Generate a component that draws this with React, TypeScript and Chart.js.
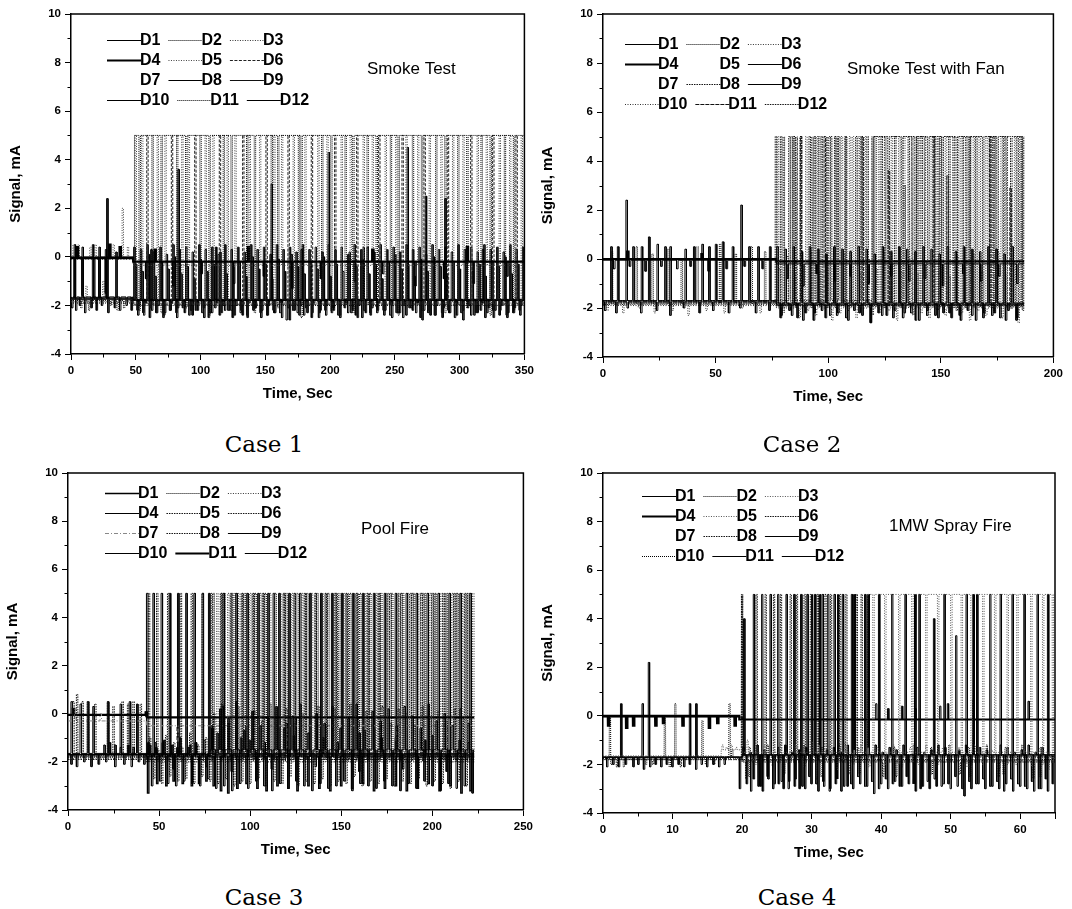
import React, { useEffect, useRef } from "react";
import { Chart, registerables } from "chart.js";
Chart.register(...registerables);

type P = [number, number];
type Trace = [number, number, number[]] | null; // [start time, sample step, sampled pulse values]

const seriesNames = ["D1", "D2", "D3", "D4", "D5", "D6", "D7", "D8", "D9", "D10", "D11", "D12"];
const yTickLabels = [-4, -2, 0, 2, 4, 6, 8, 10];

// ---------------- Case 1 : Smoke Test ----------------
const case1Title = "Smoke Test";
const case1XTicks = [0, 50, 100, 150, 200, 250, 300, 350];
const case1XMax = 350;
const case1End = 350;
const case1Levels: P[][] = [
  [[0, 0], [48, -0.2]],
  [[0, -1.8], [49, 5]],
  [[0, -1.85], [48, -1.9]],
  [[0, -0.05], [48, -0.2]],
  [[0, -0.1], [48, -0.35]],
  [[0, -1.75], [48, -1.95]],
  [[0, -1.7]],
  [[0, -1.75], [48, -1.8]],
  [[0, -1.7], [48, -1.8]],
  [[0, -1.65], [48, -1.75]],
  [[0, -1.9], [48, -2.0]],
  [[0, -1.7], [48, -1.75]],
];
const case1Spikes: P[][] = [
  [[3, -1.7], [9, -1.6], [18, -1.7], [22, -1.7], [27, -1.5], [58, -0.9], [79, -1.2], [101, -0.7], [126, -1.1], [149, -0.8], [171, -1.3], [193, -0.9], [219, -1.0], [241, -0.7], [266, -1.2], [288, -0.9], [311, -1.1], [337, -0.8]],
  [[8, -2.1], [14, -2.2], [31, -2.0], [36, -2.2], [41, -2.1], [53, -2.2], [70, -2.3], [89, -2.1], [107, -2.4], [124, -2.2], [142, -2.3], [160, -2.1], [178, -2.5], [201, -2.2], [218, -2.3], [236, -2.1], [253, -2.4], [271, -2.2], [289, -2.3], [306, -2.1], [324, -2.4], [342, -2.2]],
  [[12, -1.2], [25, -1.0], [50, 5], [67, 5], [86, 5], [104, 5], [121, 5], [138, 5], [157, 5], [172, 5], [191, 5], [209, 5], [226, 5], [243, 5], [259, 5], [277, 5], [295, 5], [314, 5], [331, 5], [348, 5]],
  [[5, 0.4], [30, 0.5], [38, 0.4], [65, 0.3], [137, 0.4], [233, 0.3], [306, 0.4]],
  [[2, 0.5], [6, 0.5], [15, 0.4], [19, 0.5], [33, 0.5], [40, 2.0], [44, 0.4], [55, 5], [73, 5], [91, 5], [110, 5], [127, 5], [146, 5], [163, 5], [181, 5], [198, 5], [216, 5], [233, 5], [251, 5], [268, 5], [286, 5], [303, 5], [321, 5], [339, 5]],
  [[59, 5], [78, 5], [96, 5], [115, 5], [133, 5], [151, 5], [168, 5], [186, 5], [204, 5], [221, 5], [238, 5], [256, 5], [273, 5], [291, 5], [309, 5], [326, 5], [344, 5]],
  [],
  [[28, 2.4], [62, 0.3], [83, 3.6], [112, 0.4], [155, 3.0], [178, 0.3], [199, 4.3], [226, 0.4], [260, 4.5], [274, 2.5], [289, 2.4], [318, 0.3]],
  [],
  [[1, -2.1], [4, -2.2], [7, -2.0], [11, -2.3], [16, -2.1], [20, -2.2], [24, -2.0], [29, -2.3], [34, -2.1], [38, -2.2], [43, -2.0], [47, -2.2], [52, -2.4], [56, -2.3], [61, -2.5], [66, -2.3], [72, -2.4], [77, -2.2], [82, -2.5], [88, -2.3], [94, -2.4], [98, -2.2], [103, -2.5], [109, -2.3], [115, -2.4], [119, -2.2], [125, -2.5], [131, -2.3], [136, -2.4], [141, -2.2], [147, -2.5], [152, -2.4], [157, -2.3], [163, -2.5], [169, -2.6], [175, -2.3], [180, -2.4], [186, -2.5], [192, -2.3], [197, -2.4], [203, -2.2], [208, -2.5], [214, -2.3], [220, -2.4], [225, -2.5], [231, -2.3], [237, -2.2], [242, -2.4], [248, -2.5], [254, -2.3], [259, -2.4], [264, -2.2], [270, -2.5], [276, -2.3], [281, -2.4], [287, -2.5], [292, -2.3], [298, -2.4], [303, -2.6], [309, -2.4], [314, -2.3], [320, -2.5], [326, -2.2], [331, -2.4], [337, -2.5], [342, -2.3], [347, -2.4]],
  [[63, 5], [82, 5], [100, 5], [118, 5], [136, 5], [155, 5], [176, 5], [194, 5], [212, 5], [229, 5], [247, 5], [264, 5], [282, 5], [299, 5], [317, 5], [335, 5]],
  [[3, 0.5], [9, 0.4], [17, 0.5], [22, 0.4], [27, 0.3], [35, 0.2]],
];
const case1D9Band = [
  0.4, -2.2, 0.3, -2.4, 0.5, -2.1, 0.2, -2.3, 0.4, -2.5, 0.1, -2.2, 0.5, -2.3, 0.3, -2.1, 0.4, -2.4, 0.2, -2.2,
  0.5, -2.3, 0.3, -2.5, 0.4, -2.1, 0.1, -2.3, 0.5, -2.2, 0.3, -2.4, 0.4, -2.2, 0.2, -2.5, 0.5, -2.1, 0.3, -2.3,
  0.4, -2.4, 0.1, -2.2, 0.5, -2.3, 0.3, -2.6, 0.4, -2.2, 0.2, -2.4, 0.5, -2.1, 0.3, -2.3, 0.4, -2.5, 0.2, -2.2,
  0.5, -2.3, 0.3, -2.4, 0.4, -2.1, 0.1, -2.3, 0.5, -2.5, 0.3, -2.2, 0.4, -2.4, 0.2, -2.3, 0.5, -2.2, 0.3, -2.4,
  0.4, -2.3, 0.2, -2.5, 0.5, -2.1, 0.3, -2.3, 0.4, -2.6, 0.1, -2.2, 0.5, -2.4, 0.3, -2.3, 0.4, -2.2, 0.2, -2.5,
  0.5, -2.3, 0.3, -2.1, 0.4, -2.4, 0.2, -2.2, 0.5, -2.3, 0.3, -2.5, 0.4, -2.2, 0.2, -2.4, 0.5, -2.3, 0.3, -2.2, 0.4,
];
const case1D12Band = [
  -0.3, -2.0, -0.6, -1.9, 0.1, -2.2, -0.8, -2.0, -0.2, -2.3, -0.5, -1.9, 0.0, -2.1, -0.7, -2.0, -0.4, -2.2, -0.9, -1.9,
  -0.1, -2.1, -0.6, -2.3, -0.3, -1.9, 0.2, -2.0, -0.7, -2.2, -0.4, -2.0, -0.2, -2.4, -0.8, -1.9, 0.0, -2.1, -0.5, -2.2,
  -0.3, -2.0, -0.9, -2.3, -0.1, -1.9, -0.6, -2.1, 0.1, -2.2, -0.4, -2.0, -0.7, -2.3, -0.2, -1.9, -0.5, -2.2, 0.0, -2.0,
  -0.8, -2.1, -0.3, -2.4, -0.6, -1.9, 0.2, -2.2, -0.4, -2.0, -0.1, -2.3, -0.7, -2.1, -0.3, -1.9, -0.9, -2.2, -0.2, -2.0,
  0.1, -2.3, -0.5, -2.0, -0.3, -2.1, -0.8, -1.9, -0.1, -2.2, -0.6, -2.4, 0.0, -2.0, -0.4, -2.1, -0.7, -2.3, -0.2, -1.9,
  -0.5, -2.2, 0.1, -2.0, -0.6, -2.3, -0.3, -1.9, -0.8, -2.1, -0.2, -2.2, -0.4, -2.0, 0.0, -2.3, -0.7, -2.1, -0.3, -2.0,
];
const case1Traces: Trace[] = [null, null, null, null, null, null, null, null, [49, 2.5, case1D9Band], null, null, [50.2, 2.5, case1D12Band]];

// ---------------- Case 2 : Smoke Test with Fan ----------------
const case2Title = "Smoke Test with Fan";
const case2XTicks = [0, 50, 100, 150, 200];
const case2XMax = 200;
const case2End = 187;
const case2Levels: P[][] = [
  [[0, -0.05], [77, -0.2]],
  [[0, -1.85], [77, -1.9]],
  [[0, -1.8], [77, -1.95]],
  [[0, 0], [77, -0.1]],
  [[0, -1.7]],
  [[0, -1.75], [77, -1.85]],
  [[0, -1.7]],
  [[0, -1.8], [77, -1.9]],
  [[0, -1.7], [77, -1.8]],
  [[0, -1.9], [77, -2.0]],
  [[0, -1.75], [77, -1.8]],
  [[0, -1.7], [120, 5]],
];
const case2Spikes: P[][] = [
  [[5, -0.4], [12, -0.3], [19, -0.5], [26, -0.3], [33, -0.4], [39, -0.3], [47, -0.5], [55, -0.4], [63, -0.3], [71, -0.4], [82, -0.8], [89, -1.1], [95, -0.6], [103, -0.9], [110, -0.7], [118, -1.0], [128, -0.7], [136, -0.9], [143, -0.8], [151, -1.1], [160, -0.6], [168, -0.9], [176, -0.7], [184, -1.0]],
  [[4, 0.3], [15, 0.5], [22, 0.2], [29, 0.4], [35, 0.0], [42, 0.5], [52, 0.6], [59, 0.2], [66, 0.5], [72, 0.3], [84.5, 5], [96, 5], [108, 5], [121, 5], [134, 3.0], [139.5, 5], [150, 5], [163, 5], [174, 5], [186, 5]],
  [[2, -2.1], [9, -2.2], [16, -2.0], [23, -2.2], [31, -2.1], [38, -2.3], [46, -2.1], [54, -2.2], [62, -2.0], [70, -2.2], [77.7, 5], [83.7, 5], [90.3, 5], [95, 5], [100.5, 5], [106.1, 5], [111, 5], [116.3, 5], [122.6, 5], [128.3, 5], [133.8, 5], [140.3, 5], [146, 5], [152.3, 5], [158.3, 5], [164.7, 5], [170.3, 5], [177, 5], [183, 5]],
  [[11, 0.3], [44, 0.2]],
  [],
  [[1, -2.1], [6, -2.2], [11, -2.0], [17, -2.2], [24, -2.1], [30, -2.3], [36, -2.0], [43, -2.2], [49, -2.1], [56, -2.2], [61, -2.0], [68, -2.2], [74, -2.1], [79, -2.4], [84, -2.3], [89, -2.5], [94, -2.2], [99, -2.4], [104, -2.3], [109, -2.5], [114, -2.2], [119, -2.6], [124, -2.3], [129, -2.4], [134, -2.2], [139, -2.5], [144, -2.3], [149, -2.4], [154, -2.2], [159, -2.5], [164, -2.3], [169, -2.4], [174, -2.2], [179, -2.5], [184, -2.4]],
  [],
  [[79.1, 5], [85.1, 5], [91.8, 5], [97.2, 5], [103.1, 5], [107.7, 5], [112.5, 5], [117.5, 5], [123.8, 5], [129.8, 5], [135.8, 5], [141.5, 5], [147.5, 5], [153.8, 5], [159.8, 5], [165.8, 5], [171.8, 5], [178.1, 5], [184.1, 5]],
  [[3.7, 0.5], [6.7, 0.5], [10.5, 2.4], [13.5, 0.5], [17.3, 0.5], [20.5, 0.9], [24.3, 0.6], [27.7, 0.5], [30, 0.5], [36.7, 0.4], [40.5, 0.5], [44.2, 0.6], [47.2, 0.5], [50.2, 0.6], [53.3, 0.7], [57.7, 0.5], [61.5, 2.2], [65, 0.5], [69, 0.5], [74.2, 0.5]],
  [[80.3, 5], [86, 5], [93, 5], [99.5, 5], [103.8, 5], [109.7, 5], [113.6, 5], [119.7, 5], [125.3, 5], [131.6, 5], [137.3, 5], [143, 5], [149, 5], [155.7, 5], [161.3, 5], [167.3, 5], [173.3, 5], [179.3, 5], [185.3, 5]],
  [[88, 5], [98.5, 5], [115.3, 5], [127, 3.6], [147, 5], [153, 3.4], [172, 5], [181, 2.9]],
  [[76.8, 5], [82.8, 5], [87.8, 5], [94.1, 5], [101.3, 5], [104.9, 5], [114.8, 5], [126.8, -1.9], [132.8, -2.0], [138.8, -1.8], [144.5, -2.0], [150.8, -1.9], [157.1, -2.1], [162.8, -1.9], [168.8, -2.0], [175.2, -1.8], [181.3, -2.0], [186.5, -2.1]],
];
const case2D9Band = [
  0.5, -2.3, 0.4, -2.1, 0.5, -2.4, 0.3, -2.2, 0.5, -2.5, 0.4, -2.1, 0.2, -2.3, 0.5, -2.2, 0.4, -2.4, 0.3,
  -2.1, 0.5, -2.3, 0.4, -2.6, 0.2, -2.2, 0.5, -2.3, 0.3, -2.1, 0.5, -2.4, 0.4, -2.2, 0.3, -2.5, 0.5, -2.1, 0.4,
  -2.3, 0.2, -2.2, 0.5, -2.4, 0.3, -2.3, 0.5, -2.1, 0.4, -2.5, 0.3, -2.2, 0.5, -2.3, 0.4, -2.4, 0.2, -2.1, 0.5, -2.5,
];
const case2D10Band = [
  -0.4, -2.2, 0.1, -2.0, -0.6, -2.4, -0.2, -2.1, 0.3, -2.3, -0.5, -2.0, -0.1, -2.5, -0.7, -2.2, 0.2, -2.1, -0.3, -2.4,
  -0.6, -2.0, 0.0, -2.3, -0.4, -2.2, 0.3, -2.1, -0.2, -2.5, -0.5, -2.0, 0.1, -2.3, -0.6, -2.2, -0.1, -2.4, 0.2, -2.1,
  -0.4, -2.3, -0.7, -2.0, 0.1, -2.2, -0.3, -2.5, 0.2, -2.1, -0.5, -2.3, -0.1, -2.2, 0.3, -2.4, -0.6, -2.0, -0.2, -2.6,
];
const case2Traces: Trace[] = [null, null, null, null, null, null, null, null, [77.5, 1.8, case2D9Band], [78.4, 1.8, case2D10Band], null, null];

// ---------------- Case 3 : Pool Fire ----------------
const case3Title = "Pool Fire";
const case3XTicks = [0, 50, 100, 150, 200, 250];
const case3XMax = 250;
const case3End = 223;
const case3Levels: P[][] = [
  [[0, -1.7], [43, -1.75]],
  [[0, -1.8], [43, -1.9]],
  [[0, -1.85], [78, -1.6]],
  [[0, -1.7], [78, -1.5]],
  [[0, -1.9], [43, -2.0]],
  [[0, -1.8]],
  [[0, -0.3], [43, -0.5]],
  [[0, -1.75], [43, -1.9]],
  [[0, -1.7], [43, -1.8]],
  [[0, -1.7], [43, -1.65]],
  [[0, -0.05], [43, -0.15]],
  [[0, -1.65], [43, -1.7]],
];
const case3Spikes: P[][] = [
  [[44, -3.3], [49, -2.9], [54, -3.0], [58, -2.8], [63, -2.9], [68, -3.0], [72, -2.9], [76, -2.8], [80, -3.0], [84, -3.2], [88, -3.3], [93, -3.1], [98, -2.9], [104, -3.1], [109, -3.2], [115, -3.0], [121, -3.1], [126, -3.2], [132, -3.0], [138, -3.1], [144, -3.2], [150, -3.0], [156, -3.1], [162, -2.9], [168, -3.2], [174, -3.1], [180, -3.0], [186, -3.2], [192, -3.1], [198, -2.9], [204, -3.2], [210, -3.0], [216, -3.3], [221, -3.2]],
  [[80, 5], [86, 5], [91.5, 5], [97, 5], [103, 5], [108.5, 5], [114, 5], [120, 5], [126, 5], [131.5, 5], [137, 5], [143, 5], [149, 5], [155, 5], [160.5, 5], [166, 5], [172, 5], [178, 5], [184, 5], [190, 5], [196, 5], [202, 5], [208, 5], [214, 5], [220, 5]],
  [[82, 5], [88, 5], [94, 5], [100, 5], [105.5, 5], [111, 5], [117, 5], [123, 5], [128.5, 5], [134, 5], [140, 5], [146, 5], [152, 5], [157.5, 5], [163, 5], [169, 5], [175, 5], [181, 5], [187, 5], [193, 5], [199, 5], [205, 5], [211, 5], [217, 5], [222.5, 5]],
  [[20, -1.3], [23, -1.2], [26, -1.3], [29, -1.4], [33, -1.3], [36, -1.4]],
  [[44.5, 5], [49, 5], [55, 5], [62, 5], [68, 5], [74, 5], [79, 5], [84, 5], [89.5, 5], [95.5, 5], [101.5, 5], [107, 5], [113, 5], [119, 5], [124.5, 5], [130, 5], [136, 5], [142, 5], [147.5, 5], [153.5, 5], [159, 5], [165, 5], [171, 5], [177, 5], [183, 5], [189, 5], [195, 5], [201, 5], [207, 5], [213, 5], [219, 5]],
  [[3, 0.5], [5, 0.8], [8, 0.5], [11, 0.5], [15, 0.4], [22, 0.5], [25, 0.3], [30, 0.5], [33, 0.4], [36, 0.5], [40, 0.4]],
  [[4, 0.2], [18, 0.0], [60, -1.2], [120, -1.4], [180, -1.1]],
  [[84.5, 5], [90, 5], [96, 5], [102, 5], [107.5, 5], [113, 5], [118.5, 5], [124.5, 5], [130.5, 5], [136, 5], [141.5, 5], [147, 5], [153, 5], [158.5, 5], [164.5, 5], [170.5, 5], [176, 5], [182, 5], [188, 5], [194, 5], [200, 5], [206, 5], [212, 5], [218, 5]],
  [[43.5, 5], [47, 5], [51.5, 5], [56, 5], [60.5, 5], [65, 5], [69.5, 5], [74, 5], [77.5, 5], [85.5, 5], [92.5, 5], [98.5, 5], [104.5, 5], [110, 5], [116, 5], [121.5, 5], [127.5, 5], [133, 5], [139, 5], [145, 5], [150.5, 5], [156.5, 5], [162, 5], [168, 5], [174, 5], [180, 5], [186, 5], [191.5, 5], [197.5, 5], [203.5, 5], [209.5, 5], [215.5, 5], [221, 5]],
  [[2, -2.1], [5, -2.2], [9, -2.0], [13, -2.2], [17, -2.1], [21, -2.0], [26, -2.2], [31, -2.1], [35, -2.2], [39, -2.0], [42, -2.1], [48, -1.2], [58, -2.3], [67, -1.3], [76, -2.2], [82, -0.8], [90, -2.4], [100, -1.1], [112, -2.3], [124, -0.9], [136, -2.2], [148, -1.2], [160, -2.4], [172, -1.0], [184, -2.3], [196, -1.1], [208, -2.4], [220, -1.2]],
  [[3, 0.2], [43, 0.1]],
  [[2, 0.5], [7, 0.4], [11, 0.5], [14, 0.3], [22, 0.5], [29, 0.4], [34, 0.5], [38, 0.4], [45, -1.3], [52, -1.2], [60, -1.4], [70, -1.2], [79, -0.5], [85, 0.3], [88, -0.2], [95, -1.0], [108, -1.2], [120, -0.4], [125, -0.2], [140, -1.0], [160, -0.8], [180, -1.0], [200, -0.9], [215, -1.1]],
];
const case3D4Band = [
  -1.2, -3.0, -1.4, -2.8, -1.1, -2.9, -1.3, -3.0, -1.0, -2.8, -1.4, -2.9, -1.2, -3.0, -1.1, -2.7, -0.6, -3.1, 0.2, -3.0,
  -0.4, -3.2, 0.5, -2.9, -0.7, -3.1, 0.1, -2.8, -0.5, -3.0, -0.2, -3.2, 0.3, -2.9, -0.6, -3.1, -0.1, -2.8, 0.4, -3.0,
  -0.8, -3.2, 0.0, -2.9, -0.4, -3.1, 0.3, -3.0, -0.6, -2.8, -0.2, -3.2, 0.4, -2.9, -0.7, -3.0, 0.1, -3.1, -0.3, -2.8,
  0.2, -3.0, -0.5, -3.2, 0.3, -2.9, -0.1, -3.1, -0.6, -2.8, 0.4, -3.0, -0.3, -3.2, 0.0, -2.9, -0.5, -3.1, 0.2, -3.0,
  -0.4, -3.3,
];
const case3D6Band = [
  -1.0, -2.7, -1.5, -2.9, -0.9, -2.6, -1.2, -2.8, -1.4, -2.7, -0.8, -2.9, -1.3, -2.6, -1.0, -2.8, 0.0, -2.9, 0.4, -2.7,
  -0.2, -3.0, 0.3, -2.8, -0.5, -2.9, 0.1, -2.7, -0.3, -3.0, 0.4, -2.8, -0.6, -2.9, 0.2, -2.6, -0.4, -3.0, 0.0, -2.8,
  -0.1, -2.9, 0.3, -2.7, -0.5, -3.0, 0.2, -2.8, -0.3, -2.9, 0.4, -2.6, -0.2, -3.0, 0.1, -2.8, -0.6, -2.9, 0.3, -2.7,
  -0.4, -3.0, 0.2, -2.8, 0.0, -2.9, -0.5, -2.7, 0.3, -3.0, -0.2, -2.8, 0.1, -2.9, -0.3, -3.1, 0.2, -2.8, -0.1, -3.0,
  0.0,
];
const case3Traces: Trace[] = [null, null, null, [44, 2.2, case3D4Band], null, [45.1, 2.2, case3D6Band], null, null, null, null, null, null];

// ---------------- Case 4 : 1MW Spray Fire ----------------
const case4Title = "1MW Spray Fire";
const case4XTicks = [0, 10, 20, 30, 40, 50, 60];
const case4XMax = 65;
const case4End = 65;
const case4Levels: P[][] = [
  [[0, -1.7], [20, -1.6]],
  [[0, -1.75], [20, -1.8]],
  [[0, -1.8], [38, 5]],
  [[0, 0], [19.6, -0.15]],
  [[0, -1.65], [17, -1.4], [20, -1.5]],
  [[0, -1.8], [20, -1.9]],
  [[0, -1.7]],
  [[0, -1.8], [20, -1.85]],
  [[0, -1.7], [20, -1.65]],
  [[0, -1.7]],
  [[0, -1.7], [20, -1.6]],
  [[0, -0.05], [20, -0.15]],
];
const case4Spikes: P[][] = [
  [[0.6, -2.1], [1.5, -2.0], [2.3, -2.1], [3.3, -2.0], [4.4, -2.1], [5.1, -2.0], [5.9, -2.2], [6.8, -2.1], [7.6, -2.0], [8.4, -2.1], [9.2, -2.0], [10.0, -2.1], [10.9, -2.0], [11.7, -2.1], [12.5, -2.0], [13.4, -2.2], [14.2, -2.0], [15.0, -2.1], [15.9, -2.0], [16.7, -2.1], [17.5, -2.0], [19.7, -3.0], [21.3, -3.1], [22.4, -2.9], [23.0, -3.1], [23.8, -2.6], [24.5, -3.0], [25.3, -2.8], [26.0, -3.0], [26.8, -2.7], [27.6, -2.9], [28.3, -3.0], [29.1, -3.0], [30.0, -2.8], [31.0, -3.1], [31.8, -2.9], [32.6, -3.1], [33.5, -2.8], [34.3, -3.1], [35.2, -2.9], [36.0, -3.0], [37.0, -2.8], [38.0, -2.9], [39.0, -3.2], [40.0, -2.8], [41.0, -3.0], [42.0, -2.7], [43.0, -2.9], [44.0, -2.8], [45.0, -3.1], [46.0, -2.9], [47.0, -3.0], [48.0, -2.9], [49.0, -2.8], [50.0, -3.0], [51.0, -2.9], [52.0, -3.3], [53.0, -3.0], [54.0, -2.8], [55.0, -3.0], [56.0, -2.9], [57.0, -3.0], [58.0, -2.8], [59.0, -3.1], [60.0, -2.9], [61.0, -3.0], [62.0, -3.1], [63.0, -3.0], [64.0, -3.1]],
  [[1.2, -2.0], [3.0, -2.1], [6.2, -2.0], [9.6, -2.1], [14.8, -2.0], [18.6, -1.4], [21.0, -2.5], [26.1, -2.4], [31.4, -2.5], [36.9, -2.4], [42.2, -2.5], [47.3, -2.4], [52.8, -2.5], [57.6, -2.4], [62.9, -2.5]],
  [[38.9, -1.9], [40.6, -1.8], [42.6, -2.0], [44.5, -1.9], [46.5, -1.8], [48.2, -2.0], [50.1, -1.9], [51.6, -1.8], [53.0, -2.0], [54.7, -1.9], [56.4, -1.8], [58.2, -2.0], [59.6, -1.9], [61.6, -1.8], [63.3, -2.0], [64.7, -1.9]],
  [[0.8, -0.4], [3.4, -0.5], [4.4, -0.4], [7.6, -0.4], [8.7, -0.3], [11.5, -0.4], [15.3, -0.5], [16.5, -0.3], [19.0, -0.4]],
  [[17.2, -1.2], [17.8, -1.3], [18.5, -1.2], [19.2, -1.3], [20.8, -1.0], [22.0, -2.0], [23.2, -1.2], [24.4, -2.1], [25.5, -1.1], [26.7, -2.0], [27.8, -1.2], [29.0, -2.1], [30.2, -1.1], [31.3, -1.9], [32.5, -1.2], [33.7, -2.2], [34.8, -1.1], [36.0, -2.0], [37.2, -1.2], [38.3, -2.1], [39.5, -1.3], [40.7, -2.0], [41.8, -1.2], [43.0, -2.1], [44.2, -1.3], [45.4, -2.0], [46.5, -1.2], [47.7, -2.1], [48.9, -1.3], [50.0, -1.9], [51.2, -1.3], [52.4, -2.1], [53.5, -1.2], [54.7, -2.0], [55.9, -1.4], [57.0, -2.2], [58.2, -1.3], [59.4, -2.0], [60.6, -1.4], [61.7, -2.1], [62.9, -1.3], [64.1, -2.2]],
  [[2.0, -2.1], [7.2, -2.0], [11.2, -2.1], [16.0, -2.0], [20.6, -2.6], [25.9, -2.5], [30.7, -2.6], [35.5, -2.4], [40.3, -2.5], [45.8, -2.6], [51.3, -2.4], [56.9, -2.5], [61.9, -2.6]],
  [],
  [[20.0, 5], [22.1, 5], [23.4, 5], [24.6, 5], [25.6, 5], [27.0, 5], [27.9, 5], [29.0, 5], [29.9, 5], [30.9, 5], [32.0, 5], [32.8, 5], [34.1, 5], [35.0, 5], [36.5, 5], [37.2, 5]],
  [[2.6, 0.5], [5.7, 0.5], [6.6, 2.2], [12.5, 0.5], [13.4, 0.5], [20.3, 4.0], [21.7, 5], [22.9, 5], [24.1, 5], [25.2, 5], [26.4, 5], [27.5, 5], [28.5, 5], [29.4, 5], [30.5, 5], [31.6, 5], [32.4, 5], [33.3, 5], [34.5, 5], [35.8, 5], [37.7, 5], [39.7, 5], [41.6, 5], [43.5, 5], [45.5, 5], [47.6, 4.0], [49.1, 5], [50.8, 3.3], [52.3, 5], [53.8, 5], [55.7, 5], [57.2, 5], [58.9, 5], [60.6, 5], [62.5, 5], [64.0, 5]],
  [[1.0, -0.1], [8.9, -0.1], [10.4, 0.5], [14.3, -0.2], [18.2, 0.5], [21.1, -1.3], [23.7, -1.2], [26.2, -1.3], [28.9, -1.2], [31.5, -1.3], [34.0, -1.2], [36.7, -1.3], [39.2, -1.2], [41.9, -1.3], [44.7, -1.2], [47.2, -1.3], [49.8, -1.2], [52.6, -1.3], [55.2, -1.2], [57.9, -1.3], [60.3, -1.2], [63.0, -1.3]],
  [[30.1, 5], [31.2, 5], [33.8, 5], [36.2, 5], [38.2, 5], [44.9, 5], [53.3, 5]],
  [[39.3, 0.5], [41.0, 0.3], [43.0, 0.4], [44.9, 0.3], [48.5, 0.4], [49.6, 0.5], [53.3, 0.7], [61.2, 0.6]],
];
const case4D11Band = [
  -1.3, -2.8, -1.5, -2.6, -1.2, -2.9, -1.4, -2.5, -1.6, -2.8, -1.3, -2.7, -1.2, -3.0, -1.5, -2.6, -1.4, -2.9, -1.3, -2.5,
  -1.6, -2.8, -1.2, -2.7, -1.4, -3.0, -1.3, -2.6, -1.5, -2.9, -1.2, -2.8, -1.4, -2.5, -1.6, -2.9, -1.3, -2.7, -1.2, -3.0,
  -1.5, -2.6, -1.3, -2.8, -1.4, -2.9, -1.2, -2.5, -1.6, -2.8, -1.3, -3.0, -1.5, -2.7, -1.4, -2.6, -1.2, -2.9, -1.3, -2.8,
  -1.6, -2.5, -1.4, -3.0, -1.2, -2.7, -1.5, -2.8, -1.3, -2.6, -1.4, -2.9, -1.6, -2.7, -1.2, -3.1, -1.3, -2.6, -1.5, -2.8,
  -1.4, -2.9, -1.2, -2.7, -1.5, -3.0, -1.3, -2.6, -1.6, -2.8,
];
const case4Traces: Trace[] = [null, null, null, null, null, null, null, null, null, null, [20.2, 0.5, case4D11Band], null];

// ---------------- styles (not data) ----------------
type Sty = [string, number, number[]];
const K: Sty = ["#000", 1, []];
const KT: Sty = ["#000", 2.2, []];
const DD: Sty = ["#000", 1, [1, 1]];
const DL: Sty = ["#333", 1, [1, 1.5]];
const DM: Sty = ["#111", 1, [1.5, 1]];
const NONE: Sty = ["rgba(0,0,0,0)", 1, []];
const case1Styles: Sty[] = [K, DD, DL, KT, ["#444", 1, [1, 1.5]], ["#222", 1, [3, 1.5]], NONE, K, ["#111", 1, []], K, DD, K];
const case2Styles: Sty[] = [K, DD, DL, KT, NONE, K, NONE, DM, K, DL, ["#111", 1, [4, 1]], DM];
const case3Styles: Sty[] = [["#000", 1.3, []], DD, DL, K, DM, DM, ["#888", 1, [4, 2, 1, 2]], DM, K, K, KT, K];
const case4Styles: Sty[] = [K, DD, ["#555", 1, [1, 1.5]], KT, ["#555", 1, [1, 1.5]], DM, NONE, DM, K, DD, K, K];

const FONT = "'Liberation Sans', Arial, sans-serif";

type PanelCfg = {
  title: string; xTicks: number[]; xMax: number; end: number;
  levels: P[][]; spikes: P[][]; traces: Trace[]; styles: Sty[]; w: number;
  L: number; T: number; W: number; H: number;
  lg: [number, number]; note: [number, number];
};

const panels: PanelCfg[] = [
  { title: case1Title, xTicks: case1XTicks, xMax: case1XMax, end: case1End, levels: case1Levels, spikes: case1Spikes, traces: case1Traces, styles: case1Styles, w: 0.55, L: 71, T: 14, W: 455, H: 340, lg: [36, 26], note: [296, 55] },
  { title: case2Title, xTicks: case2XTicks, xMax: case2XMax, end: case2End, levels: case2Levels, spikes: case2Spikes, traces: case2Traces, styles: case2Styles, w: 0.35, L: 603, T: 14, W: 452, H: 343, lg: [22, 30], note: [244, 55] },
  { title: case3Title, xTicks: case3XTicks, xMax: case3XMax, end: case3End, levels: case3Levels, spikes: case3Spikes, traces: case3Traces, styles: case3Styles, w: 0.42, L: 68, T: 473, W: 457, H: 337, lg: [37, 20], note: [293, 56] },
  { title: case4Title, xTicks: case4XTicks, xMax: case4XMax, end: case4End, levels: case4Levels, spikes: case4Spikes, traces: case4Traces, styles: case4Styles, w: 0.11, L: 603, T: 473, W: 452, H: 340, lg: [39, 23], note: [286, 53] },
];

const captions: [string, number, number][] = [
  ["Case 1", 264, 452],
  ["Case 2", 802, 452],
  ["Case 3", 264, 905],
  ["Case 4", 797, 905],
];

// Each reading is drawn as a short pulse from the series' resting level.
function buildLine(levels: P[], spikes: P[], trace: Trace, end: number, w: number) {
  const levelAt = (t: number) => {
    let v = levels[0][1];
    for (const [t0, v0] of levels) if (t >= t0) v = v0;
    return v;
  };
  const pulses: P[] = spikes.slice();
  if (trace) trace[2].forEach((v, k) => pulses.push([trace[0] + k * trace[1], v]));
  const pts: { x: number; y: number }[] = [{ x: 0, y: levelAt(0) }];
  for (let i = 1; i < levels.length; i++) {
    pts.push({ x: levels[i][0], y: levels[i - 1][1] });
    pts.push({ x: levels[i][0], y: levels[i][1] });
  }
  const e = Math.min(0.02, w / 5);
  for (const [t, y] of pulses) {
    const a = Math.max(0, t - w);
    const b = Math.min(end, t + w);
    pts.push({ x: a, y: levelAt(a - 1e-6) });
    pts.push({ x: a + e, y });
    pts.push({ x: b - e, y });
    pts.push({ x: b, y: levelAt(b) });
  }
  pts.push({ x: end, y: levelAt(end) });
  return pts.map((p, i) => ({ ...p, i })).sort((p, q) => p.x - q.x || p.i - q.i).map(({ x, y }) => ({ x, y }));
}

const AXL = 71;
const PADR = 12;
const AXB = 60;
const PADT = 14;

function Panel({ cfg }: { cfg: PanelCfg }) {
  const ref = useRef<HTMLCanvasElement>(null);
  const cw = AXL + cfg.W + PADR;
  const ch = PADT + cfg.H + AXB;
  useEffect(() => {
    const xStep = cfg.xTicks[1] - cfg.xTicks[0];
    const datasets = seriesNames.map((name, i) => {
      const [color, width, dash] = cfg.styles[i];
      return {
        label: name,
        data: buildLine(cfg.levels[i], cfg.spikes[i], cfg.traces[i], cfg.end, cfg.w),
        borderColor: color,
        borderWidth: width,
        borderDash: dash,
        pointRadius: 0,
        tension: 0,
        fill: false,
        borderCapStyle: "butt" as const,
      };
    });
    const decor = {
      id: "decor",
      afterDraw(chart: any) {
        const { ctx, chartArea } = chart;
        const { left, right, top, bottom } = chartArea;
        const xs = chart.scales.x;
        const ys = chart.scales.y;
        ctx.save();
        ctx.strokeStyle = "#000";
        ctx.lineWidth = 1.5;
        ctx.setLineDash([]);
        ctx.beginPath();
        ctx.moveTo(left, top);
        ctx.lineTo(right, top);
        ctx.lineTo(right, bottom);
        ctx.stroke();
        ctx.lineWidth = 1;
        ctx.beginPath();
        for (let v = cfg.xTicks[0] + xStep / 2; v <= cfg.xMax + 1e-9; v += xStep) {
          const px = Math.round(xs.getPixelForValue(v)) + 0.5;
          ctx.moveTo(px, bottom);
          ctx.lineTo(px, bottom + 3.5);
        }
        for (let k = 0; k < yTickLabels.length - 1; k++) {
          const v = (yTickLabels[k] + yTickLabels[k + 1]) / 2;
          const py = Math.round(ys.getPixelForValue(v)) + 0.5;
          ctx.moveTo(left, py);
          ctx.lineTo(left - 3.5, py);
        }
        ctx.stroke();
        ctx.fillStyle = "#000";
        ctx.textBaseline = "middle";
        ctx.textAlign = "left";
        ctx.font = `17px ${FONT}`;
        ctx.fillText(cfg.title, left + cfg.note[0], top + cfg.note[1]);
        ctx.font = `bold 16px ${FONT}`;
        for (let r = 0; r < 4; r++) {
          let x = left + cfg.lg[0];
          const y = top + cfg.lg[1] + r * 20;
          for (let c = 0; c < 3; c++) {
            const i = r * 3 + c;
            const [color, width, dash] = cfg.styles[i];
            ctx.strokeStyle = color;
            ctx.lineWidth = width;
            ctx.setLineDash(dash);
            ctx.beginPath();
            ctx.moveTo(x, Math.round(y) + 0.5);
            ctx.lineTo(x + 34, Math.round(y) + 0.5);
            ctx.stroke();
            ctx.fillText(seriesNames[i], x + 33, y + 1);
            x += 34 + ctx.measureText(seriesNames[i]).width + 7;
          }
        }
        ctx.restore();
      },
    };
    const tickFont = { family: FONT, size: 11.5, weight: "bold" as const };
    const titleFont = { family: FONT, size: 15, weight: "bold" as const };
    const chart = new Chart(ref.current as HTMLCanvasElement, {
      type: "line",
      data: { datasets: datasets as any },
      options: {
        animation: false,
        responsive: false,
        devicePixelRatio: 1,
        parsing: false,
        normalized: true,
        events: [],
        layout: { padding: { left: 0, top: PADT, right: PADR, bottom: 0 } },
        plugins: { legend: { display: false }, tooltip: { enabled: false } },
        elements: { point: { radius: 0 }, line: { tension: 0 } },
        scales: {
          x: {
            type: "linear",
            min: 0,
            max: cfg.xMax,
            afterFit: (s: any) => { s.height = AXB; },
            ticks: {
              stepSize: xStep,
              autoSkip: false,
              maxRotation: 0,
              color: "#000",
              font: tickFont,
              padding: 4,
              callback: (v: any) => (cfg.xTicks.includes(Number(v)) ? String(v) : ""),
            },
            grid: { drawOnChartArea: false, drawTicks: true, tickLength: 6, color: "#000", lineWidth: 1 },
            border: { display: true, color: "#000", width: 1.5 },
            title: { display: true, text: "Time, Sec", color: "#000", font: titleFont, padding: { top: 0, bottom: 11 } },
          },
          y: {
            type: "linear",
            min: yTickLabels[0],
            max: yTickLabels[yTickLabels.length - 1],
            afterFit: (s: any) => { s.width = AXL; },
            ticks: {
              stepSize: yTickLabels[1] - yTickLabels[0],
              color: "#000",
              font: tickFont,
              padding: 4,
              callback: (v: any) => (yTickLabels.includes(Number(v)) ? String(v) : ""),
            },
            grid: { drawOnChartArea: false, drawTicks: true, tickLength: 6, color: "#000", lineWidth: 1 },
            border: { display: true, color: "#000", width: 1.5 },
            title: { display: true, text: "Signal, mA", color: "#000", font: titleFont, padding: { top: 7, bottom: 0 } },
          },
        },
      },
      plugins: [decor],
    });
    return () => chart.destroy();
  }, []);
  return (
    <canvas
      ref={ref}
      width={cw}
      height={ch}
      style={{ position: "absolute", left: cfg.L - AXL, top: cfg.T - PADT, width: cw, height: ch }}
    />
  );
}

export default function App() {
  return (
    <div style={{ position: "absolute", left: 0, top: 0, width: 1072, height: 909, background: "#fff", overflow: "hidden" }}>
      {panels.map((p, i) => (
        <Panel key={i} cfg={p} />
      ))}
      {captions.map(([text, cx, base], i) => (
        <div
          key={"c" + i}
          style={{
            position: "absolute",
            left: cx - 100,
            width: 200,
            top: base - 20,
            textAlign: "center",
            fontFamily: "'DejaVu Serif', serif",
            fontSize: "23px",
            lineHeight: "24px",
            color: "#000",
            whiteSpace: "pre",
          }}
        >
          {text}
        </div>
      ))}
    </div>
  );
}
